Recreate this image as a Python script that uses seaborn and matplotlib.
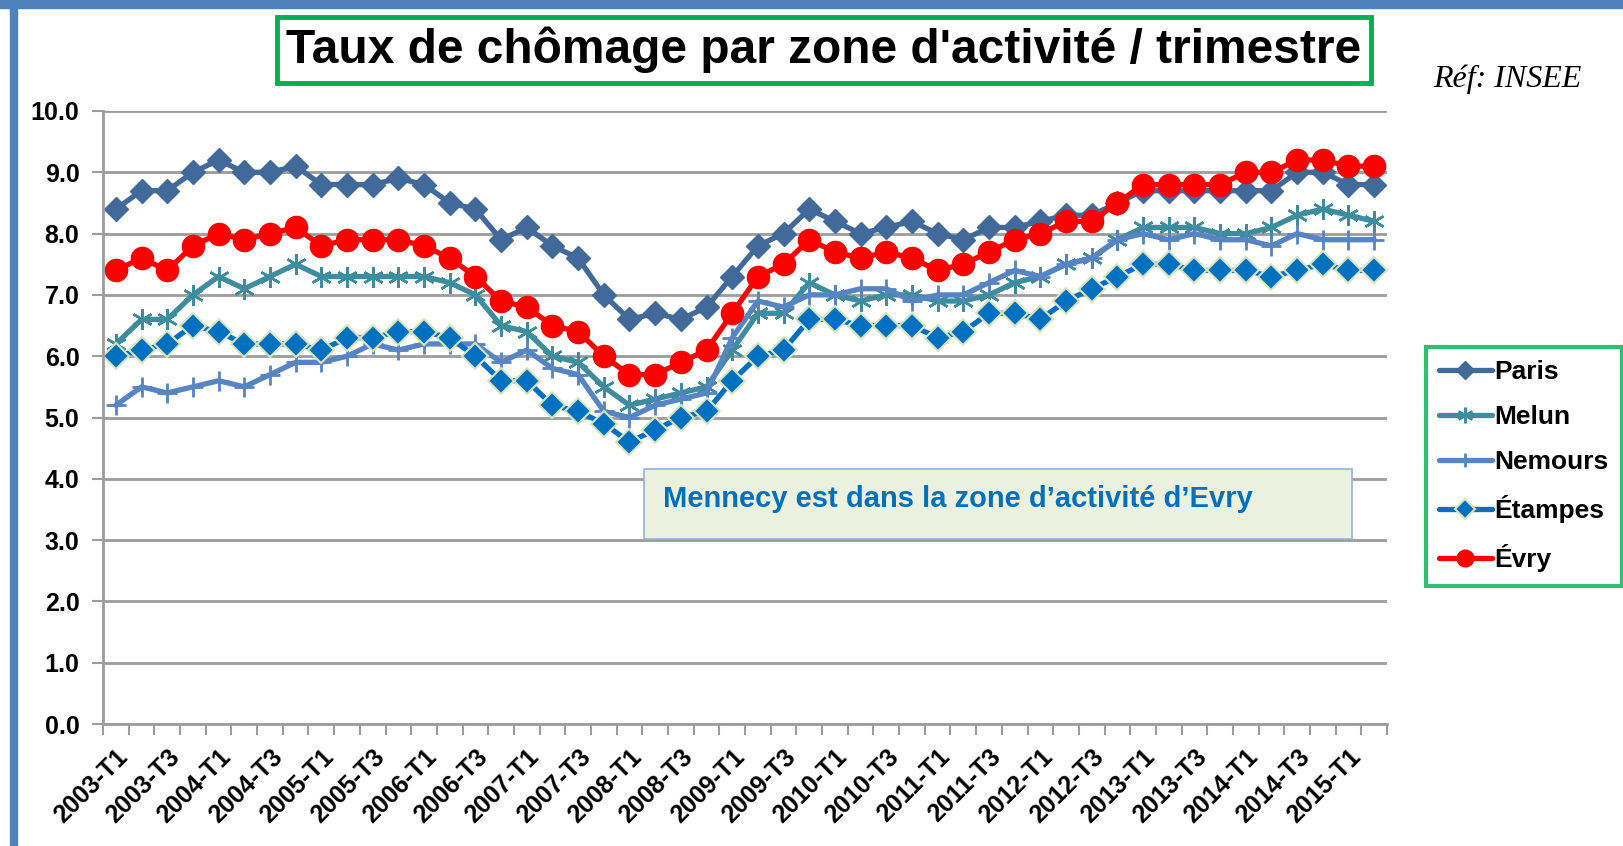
import numpy as np
import pandas as pd
import matplotlib
matplotlib.use("Agg")
import matplotlib.pyplot as plt
from matplotlib.patches import Rectangle
from matplotlib.ticker import FixedLocator, FormatStrFormatter
import seaborn as sns

quarters = [f"{y}-T{q}" for y in range(2003, 2016) for q in (1, 2, 3, 4)][:50]

paris = [8.4, 8.7, 8.7, 9.0, 9.2, 9.0, 9.0, 9.1, 8.8, 8.8,
         8.8, 8.9, 8.8, 8.5, 8.4, 7.9, 8.1, 7.8, 7.6, 7.0,
         6.6, 6.7, 6.6, 6.8, 7.3, 7.8, 8.0, 8.4, 8.2, 8.0,
         8.1, 8.2, 8.0, 7.9, 8.1, 8.1, 8.2, 8.3, 8.3, 8.5,
         8.7, 8.7, 8.7, 8.7, 8.7, 8.7, 9.0, 9.0, 8.8, 8.8]
melun = [6.2, 6.6, 6.6, 7.0, 7.3, 7.1, 7.3, 7.5, 7.3, 7.3,
         7.3, 7.3, 7.3, 7.2, 7.0, 6.5, 6.4, 6.0, 5.9, 5.5,
         5.2, 5.3, 5.4, 5.5, 6.1, 6.7, 6.7, 7.2, 7.0, 6.9,
         7.0, 7.0, 6.9, 6.9, 7.0, 7.2, 7.3, 7.5, 7.6, 7.9,
         8.1, 8.1, 8.1, 8.0, 8.0, 8.1, 8.3, 8.4, 8.3, 8.2]
nemours = [5.2, 5.5, 5.4, 5.5, 5.6, 5.5, 5.7, 5.9, 5.9, 6.0,
           6.2, 6.1, 6.2, 6.2, 6.2, 5.9, 6.1, 5.8, 5.7, 5.1,
           5.0, 5.2, 5.3, 5.4, 6.3, 6.9, 6.8, 7.0, 7.0, 7.1,
           7.1, 6.9, 7.0, 7.0, 7.2, 7.4, 7.3, 7.5, 7.6, 7.9,
           8.0, 7.9, 8.0, 7.9, 7.9, 7.8, 8.0, 7.9, 7.9, 7.9]
etampes = [6.0, 6.1, 6.2, 6.5, 6.4, 6.2, 6.2, 6.2, 6.1, 6.3,
           6.3, 6.4, 6.4, 6.3, 6.0, 5.6, 5.6, 5.2, 5.1, 4.9,
           4.6, 4.8, 5.0, 5.1, 5.6, 6.0, 6.1, 6.6, 6.6, 6.5,
           6.5, 6.5, 6.3, 6.4, 6.7, 6.7, 6.6, 6.9, 7.1, 7.3,
           7.5, 7.5, 7.4, 7.4, 7.4, 7.3, 7.4, 7.5, 7.4, 7.4]
evry = [7.4, 7.6, 7.4, 7.8, 8.0, 7.9, 8.0, 8.1, 7.8, 7.9,
        7.9, 7.9, 7.8, 7.6, 7.3, 6.9, 6.8, 6.5, 6.4, 6.0,
        5.7, 5.7, 5.9, 6.1, 6.7, 7.3, 7.5, 7.9, 7.7, 7.6,
        7.7, 7.6, 7.4, 7.5, 7.7, 7.9, 8.0, 8.2, 8.2, 8.5,
        8.8, 8.8, 8.8, 8.8, 9.0, 9.0, 9.2, 9.2, 9.1, 9.1]

zones = ["Paris", "Melun", "Nemours", "Étampes", "Évry"]

df = pd.DataFrame({"pos": np.arange(len(quarters)), "trimestre": quarters,
                   "Paris": paris, "Melun": melun, "Nemours": nemours,
                   "Étampes": etampes, "Évry": evry})
df = df.melt(id_vars=["pos", "trimestre"], var_name="zone", value_name="taux")

styles = {
    "Paris": dict(color="#416A9B", marker="D", markersize=12, markeredgecolor="#416A9B", markeredgewidth=1),
    "Melun": dict(color="#3E8D9E", marker=(6, 2, 0), markersize=15, markeredgecolor="#3E8D9E", markeredgewidth=1.8),
    "Nemours": dict(color="#5784C2", marker="+", markersize=14, markeredgecolor="#5784C2", markeredgewidth=2),
    "Étampes": dict(color="#0070C0", marker="D", markersize=13, markeredgecolor="#D7E4BD", markeredgewidth=1.5),
    "Évry": dict(color="#FF0000", marker="o", markersize=16, markeredgecolor="#FF0000", markeredgewidth=1),
}

sns.set_style("white")
plt.rcParams["font.family"] = ["Liberation Sans", "DejaVu Sans"]
plt.rcParams["font.weight"] = "bold"
plt.rcParams["text.color"] = "black"
plt.rcParams["xtick.color"] = "black"
plt.rcParams["ytick.color"] = "black"

fig = plt.figure(figsize=(16.23, 8.46), dpi=100)
ax = fig.add_axes([0.0635, 0.1442, 0.7911, 0.7246])

for z in zones:
    sns.lineplot(data=df[df["zone"] == z], x="pos", y="taux", ax=ax, label=z,
                 linewidth=3.8, linestyle="-", **styles[z])

ax.set_xlim(-0.5, len(quarters) - 0.5)
ax.set_ylim(0, 10)
ax.set_yticks(np.arange(0, 10.5, 1))
ax.yaxis.set_major_formatter(FormatStrFormatter("%.1f"))
ax.yaxis.grid(True, color="#9C9C9C", linewidth=2)
ax.xaxis.grid(False)
ax.set_xticks(np.arange(0, len(quarters), 2))
ax.set_xticklabels(quarters[::2], rotation=45, ha="right", rotation_mode="anchor",
                   fontsize=18, fontweight="bold")
ax.xaxis.set_minor_locator(FixedLocator(np.arange(-0.5, len(quarters), 1)))
ax.tick_params(axis="x", which="major", length=0, pad=15, labelcolor="black")
ax.tick_params(axis="x", which="minor", length=8, width=1.5, color="#9C9C9C", direction="out", bottom=True)
ax.tick_params(axis="y", length=8, width=1.5, color="#9C9C9C", direction="out", left=True,
               labelsize=18, labelcolor="black", pad=9)
for s in ["top", "right"]:
    ax.spines[s].set_visible(False)
for s in ["left", "bottom"]:
    ax.spines[s].set_color("#9C9C9C")
    ax.spines[s].set_linewidth(2)
ax.set_xlabel("")
ax.set_ylabel("")

leg = ax.legend(loc="upper left", bbox_to_anchor=(0.8785, 0.59), bbox_transform=fig.transFigure,
                prop={"weight": "bold", "size": 19}, handlelength=2.0, handletextpad=0.1,
                labelspacing=0.8, borderpad=0.5, borderaxespad=0, markerscale=0.75,
                fancybox=False, frameon=True)
leg.get_frame().set_edgecolor("#00B050")
leg.get_frame().set_linewidth(3)

# cadre bleu de la diapo
fig.patches.append(Rectangle((0, 1 - 8 / 846), 1, 8 / 846, transform=fig.transFigure,
                             color="#4F81BD", zorder=0))
fig.patches.append(Rectangle((10 / 1623, 0), 7 / 1623, 1, transform=fig.transFigure,
                             color="#4F81BD", zorder=0))

# titre
fig.patches.append(Rectangle((0.1707, 0.9019), 0.674, 0.078, transform=fig.transFigure,
                             facecolor="white", edgecolor="#00B050", linewidth=3.5))
fig.text(0.5077, 0.941, "Taux de chômage par zone d'activité / trimestre",
         ha="center", va="center", fontsize=34.5, fontweight="bold")
fig.text(0.883, 0.906, "Réf: INSEE", ha="left", va="center", fontsize=23,
         style="italic", fontweight="normal", family=["Liberation Serif", "DejaVu Serif"])

# encadré Mennecy
fig.patches.append(Rectangle((0.3968, 0.3629), 0.4362, 0.0827, transform=fig.transFigure,
                             facecolor="#EBF1DE", edgecolor="#95B3D7", linewidth=1.2))
fig.text(0.4085, 0.4102, "Mennecy est dans la zone d\u2019activité d\u2019Evry",
         ha="left", va="center", fontsize=21, fontweight="bold", color="#0070C0")

fig.savefig("out.png", dpi=100)
